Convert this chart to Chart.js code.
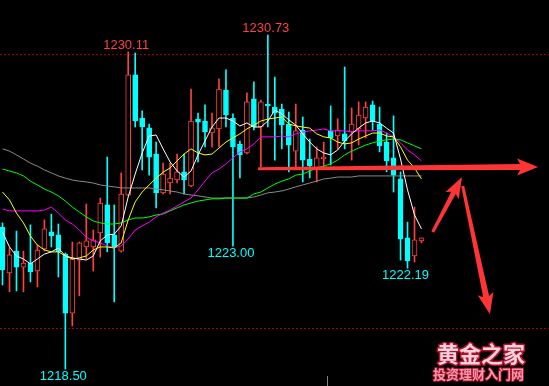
<!DOCTYPE html>
<html>
<head>
<meta charset="utf-8">
<script src="https://cdn.jsdelivr.net/npm/chart.js@4"></script>
<style>
  html, body { margin: 0; padding: 0; background: #000; overflow: hidden; }
  #wrap { width: 549px; height: 386px; position: relative; }
</style>
</head>
<body>
<div id="wrap"><canvas id="chart"></canvas></div>
<script>
'use strict';

// candles, oldest first
var opens = [1223.70, 1222.02, 1222.82, 1222.23, 1222.38, 1222.09, 1222.90, 1223.52, 1223.41, 1222.71,
  1220.55, 1222.49, 1222.97, 1222.97, 1223.48, 1224.51, 1223.41, 1222.82, 1224.87, 1229.27,
  1227.69, 1227.33, 1226.37, 1224.95, 1225.31, 1225.42, 1225.72, 1225.20, 1227.65, 1227.58,
  1227.14, 1227.29, 1228.71, 1227.69, 1226.74, 1226.41, 1228.39, 1227.36, 1228.20, 1228.09,
  1228.02, 1227.47, 1226.48, 1227.25, 1226.19, 1225.86, 1226.19, 1227.22, 1227.03, 1227.11,
  1227.18, 1227.29, 1227.69, 1228.17, 1227.47, 1226.81, 1226.23, 1225.46, 1223.30, 1222.64,
  1223.19];
var highs = [1223.85, 1222.94, 1223.55, 1222.82, 1223.78, 1223.04, 1223.96, 1224.17, 1223.81, 1222.75,
  1223.15, 1223.15, 1224.54, 1223.59, 1224.76, 1226.26, 1224.51, 1225.68, 1230.11, 1230.07,
  1227.95, 1227.47, 1226.81, 1226.04, 1226.04, 1226.37, 1226.37, 1228.75, 1227.87, 1228.17,
  1227.87, 1229.12, 1229.45, 1227.84, 1226.85, 1228.61, 1229.01, 1228.35, 1230.73, 1229.19,
  1228.20, 1227.91, 1228.20, 1227.73, 1226.92, 1226.63, 1226.81, 1228.13, 1227.66, 1229.56,
  1228.06, 1228.28, 1228.28, 1228.31, 1228.09, 1227.14, 1227.77, 1225.72, 1223.88, 1224.43,
  1223.30];
var lows = [1221.58, 1221.33, 1221.36, 1221.33, 1221.69, 1221.51, 1222.82, 1222.97, 1221.87, 1218.50,
  1220.08, 1221.18, 1222.53, 1222.09, 1222.60, 1222.79, 1220.96, 1222.78, 1224.85, 1227.36,
  1225.79, 1225.60, 1224.40, 1224.91, 1224.91, 1225.31, 1224.91, 1225.18, 1226.08, 1226.63,
  1226.63, 1226.63, 1227.36, 1223.00, 1225.50, 1226.38, 1227.25, 1225.90, 1227.36, 1226.15,
  1226.56, 1225.72, 1225.86, 1225.35, 1225.50, 1225.35, 1225.86, 1225.97, 1226.56, 1226.56,
  1226.15, 1226.70, 1226.96, 1227.25, 1226.45, 1225.72, 1224.98, 1222.49, 1222.19, 1222.42,
  1223.12];
var closes = [1222.13, 1222.68, 1222.23, 1222.38, 1222.06, 1222.86, 1223.63, 1223.37, 1222.79, 1220.55,
  1222.53, 1223.12, 1223.19, 1223.23, 1224.58, 1223.12, 1222.97, 1224.91, 1229.27, 1227.58,
  1227.36, 1226.26, 1224.95, 1225.64, 1225.49, 1225.72, 1225.42, 1227.58, 1227.54, 1227.18,
  1227.33, 1228.75, 1227.80, 1226.63, 1226.34, 1228.28, 1227.36, 1228.28, 1228.13, 1227.87,
  1227.44, 1226.70, 1227.22, 1226.15, 1225.94, 1226.23, 1226.26, 1226.96, 1227.25, 1226.85,
  1227.47, 1227.80, 1228.09, 1227.58, 1226.67, 1226.12, 1225.60, 1223.26, 1222.46, 1223.23,
  1223.30];

// moving averages as drawn in the picture
var ma5 = [1223.52, 1222.97, 1222.64, 1222.53, 1222.35, 1222.53, 1222.71, 1222.79, 1222.93, 1222.64,
  1222.57, 1222.53, 1222.49, 1222.64, 1223.19, 1223.41, 1223.44, 1223.74, 1224.80, 1225.64,
  1226.41, 1227.03, 1227.07, 1226.56, 1226.08, 1225.75, 1225.53, 1225.75, 1226.34, 1226.85,
  1227.36, 1227.69, 1227.69, 1227.58, 1227.40, 1227.51, 1227.36, 1227.36, 1227.58, 1227.98,
  1227.84, 1227.62, 1227.43, 1227.11, 1226.81, 1226.56, 1226.41, 1226.34, 1226.52, 1226.85,
  1227.11, 1227.32, 1227.51, 1227.58, 1227.51, 1227.32, 1227.14, 1226.19, 1225.06, 1224.14,
  1223.63];
var ma10 = [1224.98, 1224.69, 1224.21, 1223.85, 1223.37, 1223.04, 1222.86, 1222.79, 1222.79, 1222.64,
  1222.53, 1222.57, 1222.64, 1222.86, 1222.97, 1222.97, 1222.93, 1223.12, 1223.96, 1224.62,
  1224.98, 1225.24, 1225.49, 1225.71, 1225.86, 1226.12, 1226.37, 1226.56, 1226.41, 1226.34,
  1226.37, 1226.59, 1226.81, 1226.96, 1227.11, 1227.29, 1227.43, 1227.58, 1227.65, 1227.69,
  1227.73, 1227.47, 1227.40, 1227.36, 1227.32, 1227.11, 1227.00, 1226.96, 1226.81, 1226.74,
  1226.78, 1226.92, 1227.03, 1227.14, 1227.14, 1227.03, 1227.00, 1226.63, 1226.15, 1225.86,
  1225.46];
var ma20 = [1224.36, 1224.29, 1224.29, 1224.29, 1224.29, 1224.29, 1224.32, 1224.43, 1224.21, 1223.96,
  1223.81, 1223.59, 1223.33, 1223.19, 1223.12, 1223.01, 1222.93, 1223.01, 1223.26, 1223.59,
  1223.74, 1223.88, 1224.07, 1224.21, 1224.32, 1224.47, 1224.62, 1224.76, 1225.06, 1225.38,
  1225.68, 1225.82, 1226.01, 1226.23, 1226.45, 1226.56, 1226.74, 1227.00, 1227.00, 1227.00,
  1227.03, 1227.00, 1227.11, 1227.18, 1227.22, 1227.25, 1227.29, 1227.22, 1227.22, 1227.22,
  1227.18, 1227.22, 1227.22, 1227.22, 1227.25, 1227.14, 1227.00, 1226.78, 1226.52, 1226.34,
  1226.12];
var ma30 = [1225.82, 1225.75, 1225.68, 1225.57, 1225.38, 1225.24, 1225.09, 1224.98, 1224.84, 1224.65,
  1224.43, 1224.25, 1224.07, 1223.92, 1223.85, 1223.81, 1223.81, 1223.85, 1223.96, 1224.03,
  1224.03, 1224.07, 1224.14, 1224.18, 1224.29, 1224.40, 1224.51, 1224.58, 1224.65, 1224.69,
  1224.73, 1224.73, 1224.76, 1224.76, 1224.76, 1224.76, 1224.91, 1224.98, 1225.13, 1225.27,
  1225.38, 1225.46, 1225.60, 1225.64, 1225.75, 1225.86, 1225.93, 1226.01, 1226.15, 1226.34,
  1226.48, 1226.59, 1226.70, 1226.78, 1226.85, 1226.89, 1226.92, 1226.89, 1226.78, 1226.67,
  1226.56];
var ma60 = [1226.56, 1226.48, 1226.34, 1226.19, 1226.04, 1225.93, 1225.79, 1225.68, 1225.57, 1225.49,
  1225.42, 1225.38, 1225.35, 1225.31, 1225.24, 1225.20, 1225.17, 1225.13, 1225.13, 1225.13,
  1225.13, 1225.13, 1225.09, 1225.06, 1225.02, 1224.98, 1224.91, 1224.87, 1224.84, 1224.80,
  1224.76, 1224.76, 1224.76, 1224.76, 1224.76, 1224.76, 1224.80, 1224.87, 1224.95, 1224.98,
  1225.02, 1225.09, 1225.17, 1225.24, 1225.31, 1225.38, 1225.46, 1225.49, 1225.53, 1225.53,
  1225.53, 1225.57, 1225.57, 1225.57, 1225.57, 1225.57, 1225.57, 1225.57, 1225.57, 1225.57,
  1225.57];

var gridPrices = [1220, 1230];
var timeTicks = [46.5];
var extremes = [
  { index: 18, type: 'high' },
  { index: 38, type: 'high' },
  { index: 33, type: 'low' },
  { index: 58, type: 'low' },
  { index: 9, type: 'low' }
];
// hand-drawn arrows, [index, price]
var arrows = [
  { from: [36.6, 1225.83], to: [76.7, 1225.90], tail: 3, shaft: 6, head: 18, width: 17 },
  { from: [61.6, 1223.52], to: [65.8, 1225.53], tail: 3, shaft: 5, head: 18, width: 15 },
  { from: [65.9, 1225.20], to: [69.8, 1220.51], tail: 3, shaft: 6, head: 18, width: 16 }
];

var RED = '#ff4040',
  CYAN = '#00ffff',
  ARROW = '#ff3535';

function isUp(i) {
  return closes[i] >= opens[i];
}

function drawArrow(ctx, x0, y0, x1, y1, a) {
  var dx = x1 - x0, dy = y1 - y0,
    len = Math.sqrt(dx * dx + dy * dy),
    ux = dx / len, uy = dy / len,
    nx = -uy, ny = ux,
    bx = x1 - ux * a.head, by = y1 - uy * a.head;
  ctx.beginPath();
  ctx.moveTo(x0 + nx * a.tail / 2, y0 + ny * a.tail / 2);
  ctx.lineTo(bx + nx * a.shaft / 2, by + ny * a.shaft / 2);
  ctx.lineTo(bx - ux * 3 + nx * a.width / 2, by - uy * 3 + ny * a.width / 2);
  ctx.lineTo(x1, y1);
  ctx.lineTo(bx - ux * 3 - nx * a.width / 2, by - uy * 3 - ny * a.width / 2);
  ctx.lineTo(bx - nx * a.shaft / 2, by - ny * a.shaft / 2);
  ctx.lineTo(x0 - nx * a.tail / 2, y0 - ny * a.tail / 2);
  ctx.closePath();
  ctx.fill();
}

var overlay = {
  id: 'overlay',
  afterDatasetsDraw: function (chart) {
    var ctx = chart.ctx,
      xs = chart.scales.x,
      ys = chart.scales.y,
      area = chart.chartArea;
    ctx.save();

    // high / low price tags
    ctx.font = '13px "Liberation Sans", Arial, sans-serif';
    ctx.textAlign = 'center';
    extremes.forEach(function (e) {
      var high = e.type === 'high',
        value = high ? highs[e.index] : lows[e.index],
        x = xs.getPixelForValue(e.index) - 2,
        y = ys.getPixelForValue(value);
      ctx.fillStyle = high ? RED : CYAN;
      ctx.textBaseline = high ? 'alphabetic' : 'top';
      ctx.fillText(value.toFixed(2), x, high ? y - 3 : y + 1);
    });

    // arrows
    ctx.fillStyle = ARROW;
    arrows.forEach(function (a) {
      drawArrow(ctx,
        xs.getPixelForValue(a.from[0]), ys.getPixelForValue(a.from[1]),
        xs.getPixelForValue(a.to[0]), ys.getPixelForValue(a.to[1]), a);
    });

    // time tick marks at the bottom
    ctx.strokeStyle = '#808080';
    ctx.lineWidth = 1;
    timeTicks.forEach(function (t) {
      var x = Math.round(xs.getPixelForValue(t)) + 0.5;
      ctx.beginPath();
      ctx.moveTo(x, area.bottom - 10);
      ctx.lineTo(x, area.bottom);
      ctx.stroke();
    });

    // watermark
    ctx.textAlign = 'left';
    ctx.textBaseline = 'alphabetic';
    ctx.lineJoin = 'round';
    ctx.font = 'bold 22px "Noto Sans CJK SC", sans-serif';
    ctx.lineWidth = 3;
    ctx.strokeStyle = '#b0102c';
    ctx.strokeText('黄金之家', area.right - 112, area.bottom - 24);
    ctx.fillStyle = '#f4d2dc';
    ctx.fillText('黄金之家', area.right - 112, area.bottom - 24);
    ctx.font = 'bold 13px "Noto Sans CJK SC", sans-serif';
    ctx.lineWidth = 2;
    ctx.strokeText('投资理财入门网', area.right - 116, area.bottom - 7);
    ctx.fillStyle = '#f09aac';
    ctx.fillText('投资理财入门网', area.right - 116, area.bottom - 7);

    ctx.restore();
  }
};

function lineSet(values, color, order) {
  return {
    type: 'line',
    data: values.map(function (v, i) { return { x: i, y: v }; }),
    borderColor: color,
    borderWidth: 1,
    pointRadius: 0,
    tension: 0,
    fill: false,
    order: order
  };
}

var wickColors = opens.map(function (o, i) { return isUp(i) ? RED : CYAN; });

var chart = new Chart(document.getElementById('chart'), {
  type: 'bar',
  data: {
    datasets: [
      lineSet(ma5, '#ffffff', 1),
      lineSet(ma10, '#ffff00', 2),
      lineSet(ma20, '#ff00ff', 3),
      lineSet(ma30, '#00ff00', 4),
      lineSet(ma60, '#8a8a8a', 5),
      {
        type: 'bar',
        data: opens.map(function (o, i) { return { x: i, y: [o, closes[i]] }; }),
        backgroundColor: opens.map(function (o, i) { return isUp(i) ? '#000000' : CYAN; }),
        borderColor: wickColors,
        borderWidth: 1,
        borderSkipped: false,
        barThickness: 5,
        grouped: false,
        order: 6
      },
      {
        type: 'bar',
        data: lows.map(function (l, i) { return { x: i, y: [l, highs[i]] }; }),
        backgroundColor: wickColors,
        borderWidth: 0,
        barThickness: 1,
        grouped: false,
        order: 7
      }
    ]
  },
  options: {
    responsive: true,
    maintainAspectRatio: false,
    animation: false,
    layout: { padding: 0 },
    plugins: {
      legend: { display: false },
      tooltip: { enabled: false }
    },
    scales: {
      x: {
        type: 'linear',
        min: -0.358,
        max: 78.26,
        offset: false,
        display: false
      },
      y: {
        type: 'linear',
        min: 1217.88,
        max: 1232.01,
        beginAtZero: false,
        afterBuildTicks: function (axis) {
          axis.ticks = gridPrices.map(function (v) { return { value: v }; });
        },
        ticks: { display: false },
        grid: { color: '#a00000', lineWidth: 1, drawTicks: false },
        border: { display: false, dash: [2, 2] }
      }
    }
  },
  plugins: [overlay]
});
</script>
</body>
</html>
